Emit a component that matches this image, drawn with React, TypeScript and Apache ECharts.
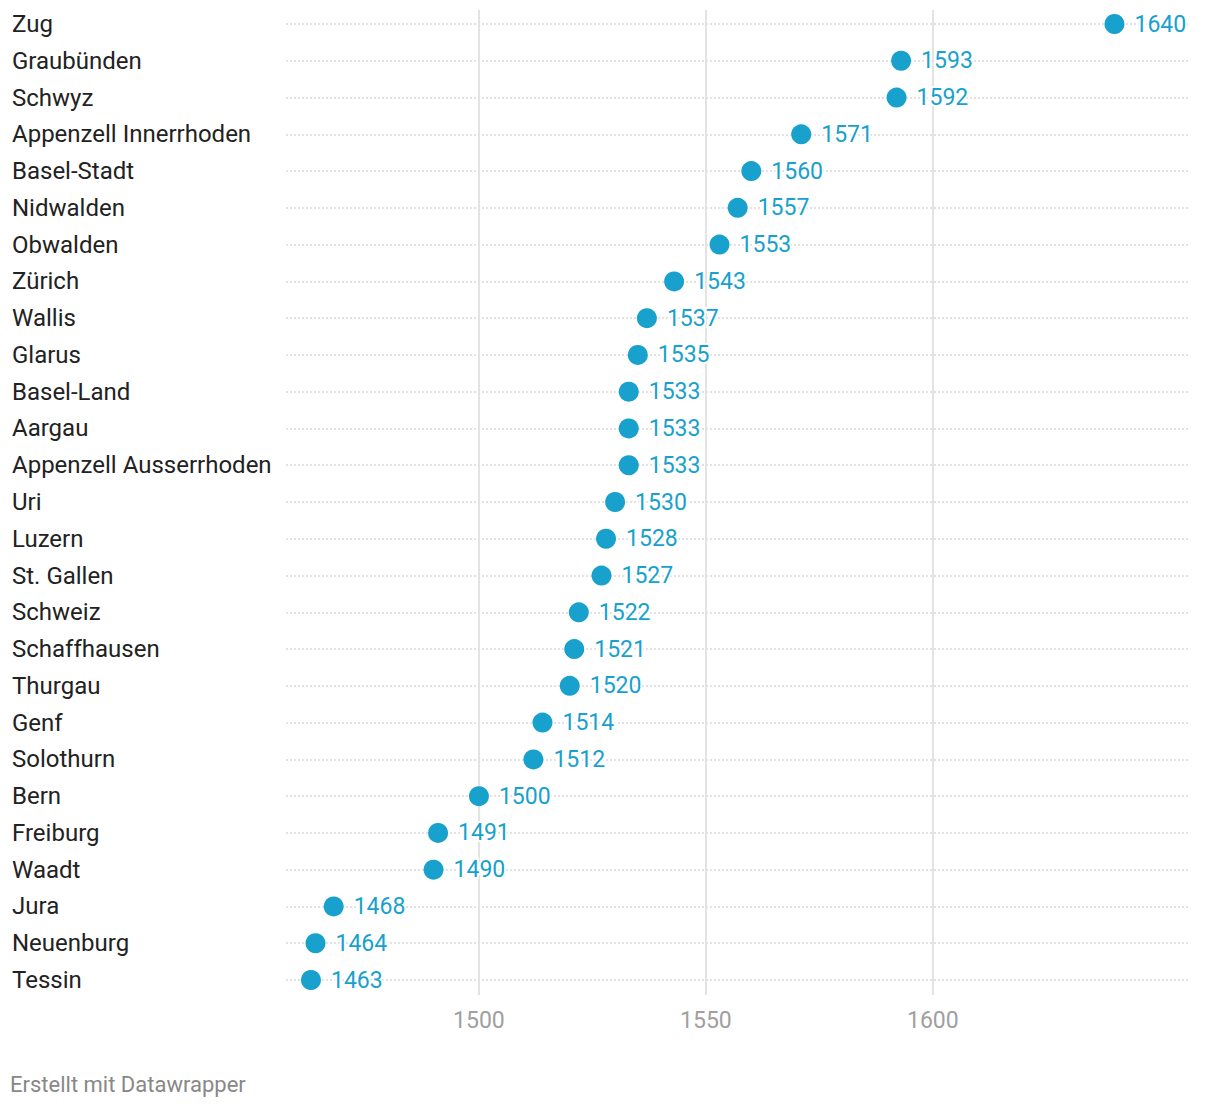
import React, { useEffect, useRef } from "react";
import * as echarts from "echarts";

const categories = [
  "Zug", "Graubünden", "Schwyz", "Appenzell Innerrhoden", "Basel-Stadt", "Nidwalden",
  "Obwalden", "Zürich", "Wallis", "Glarus", "Basel-Land", "Aargau",
  "Appenzell Ausserrhoden", "Uri", "Luzern", "St. Gallen", "Schweiz", "Schaffhausen",
  "Thurgau", "Genf", "Solothurn", "Bern", "Freiburg", "Waadt", "Jura", "Neuenburg", "Tessin",
];
const values = [
  1640, 1593, 1592, 1571, 1560, 1557, 1553, 1543, 1537, 1535, 1533, 1533, 1533, 1530,
  1528, 1527, 1522, 1521, 1520, 1514, 1512, 1500, 1491, 1490, 1468, 1464, 1463,
];
const xTicks = [1500, 1550, 1600];
const xMin = 1457.5;
const xMax = 1656.2;
const footer = "Erstellt mit Datawrapper";

const FONT = "Roboto, 'Noto Sans', sans-serif";
const BLUE = "#18a1cd";

export default function App() {
  const ref = useRef<HTMLDivElement>(null);
  useEffect(() => {
    if (!ref.current) return;
    const chart = echarts.init(ref.current, undefined, { renderer: "svg" });
    chart.setOption({
      animation: false,
      backgroundColor: "#ffffff",
      textStyle: { fontFamily: FONT },
      grid: [
        { left: 286, width: 902, top: 24, height: 956, containLabel: false },
        { left: 286, width: 902, top: 10, height: 985, containLabel: false },
      ],
      xAxis: [
        {
          gridIndex: 0,
          type: "value",
          min: xMin,
          max: xMax,
          axisLine: { show: false },
          axisTick: { show: false },
          axisLabel: { show: false },
          splitLine: { show: false },
        },
        {
          gridIndex: 1,
          type: "value",
          min: xMin,
          max: xMax,
          axisLine: { show: false },
          axisTick: { show: false },
          splitLine: { show: false },
          axisLabel: {
            show: true,
            customValues: xTicks,
            formatter: (v: number) => String(v),
            color: "#a0a0a0",
            fontSize: 23,
            fontFamily: FONT,
            margin: 14,
          },
        },
      ],
      yAxis: [
        {
          gridIndex: 0,
          type: "category",
          data: categories,
          inverse: true,
          boundaryGap: false,
          axisLine: { show: false },
          axisTick: { show: false },
          axisLabel: {
            align: "left",
            margin: 274,
            color: "#222222",
            fontSize: 24,
            fontFamily: FONT,
            interval: 0,
          },
          splitLine: {
            show: true,
            interval: 0,
            lineStyle: { color: "#e2e2e2", width: 2, type: [2, 2] },
          },
        },
        {
          gridIndex: 1,
          type: "value",
          min: 0,
          max: 1,
          show: false,
        },
      ],
      series: [
        {
          type: "line",
          xAxisIndex: 1,
          yAxisIndex: 1,
          data: [],
          silent: true,
          markLine: {
            symbol: "none",
            silent: true,
            label: { show: false },
            lineStyle: { color: "#e3e3e3", width: 2, type: "solid" },
            data: xTicks.map((t) => ({ xAxis: t })),
          },
        },
        {
          type: "scatter",
          xAxisIndex: 0,
          yAxisIndex: 0,
          data: values.map((v, i) => [v, categories[i]]),
          symbol: "circle",
          symbolSize: 20,
          itemStyle: { color: BLUE, opacity: 1 },
          label: {
            show: true,
            position: "right",
            distance: 10,
            formatter: (p: any) => String(p.value[0]),
            color: BLUE,
            fontSize: 23,
            fontFamily: FONT,
            textBorderColor: "#ffffff",
            textBorderWidth: 4,
          },
          z: 5,
        },
      ],
      graphic: [
        {
          type: "text",
          left: 10,
          top: 1073,
          style: {
            text: footer,
            fill: "#888888",
            fontSize: 22,
            fontFamily: FONT,
          },
        },
      ],
    });
    return () => chart.dispose();
  }, []);
  return (
    <div
      ref={ref}
      style={{ position: "fixed", left: 0, top: 0, width: 1220, height: 1108 }}
    />
  );
}
